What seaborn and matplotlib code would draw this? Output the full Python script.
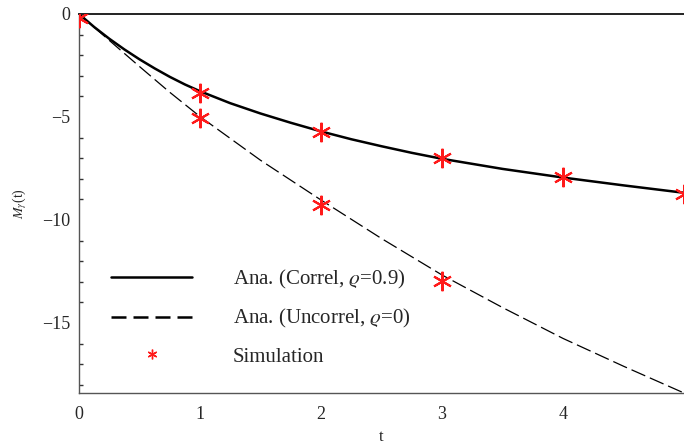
import numpy as np
import pandas as pd
import matplotlib
matplotlib.use("Agg")
import matplotlib.pyplot as plt
from matplotlib.lines import Line2D
import seaborn as sns

# ---- data ----
t_corr = [0, 0.125, 0.25, 0.375, 0.5, 0.625, 0.75, 0.875, 1.0, 1.25, 1.5, 1.75, 2.0,
          2.25, 2.5, 2.75, 3.0, 3.5, 4.0, 4.5, 5.0]
m_corr = [0, -0.63, -1.2, -1.72, -2.2, -2.64, -3.05, -3.42, -3.75, -4.33, -4.83, -5.28, -5.70,
          -6.08, -6.42, -6.74, -7.03, -7.52, -7.94, -8.32, -8.68]

t_unc = [0, 0.25, 0.5, 0.75, 1.0, 1.5, 2.0, 2.5, 3.0, 3.5, 4.0, 4.5, 5.0]
m_unc = [0, -1.28, -2.55, -3.8, -4.98, -7.1, -9.03, -10.9, -12.67, -14.25, -15.75, -17.1, -18.4]

t_sim = [0, 1, 1, 2, 2, 3, 3, 4, 5]
m_sim = [-0.2, -3.83, -5.05, -5.73, -9.27, -6.99, -12.96, -7.91, -8.74]

x_ticks = [0, 1, 2, 3, 4]
y_ticks = [0, -5, -10, -15]
labels = ["Ana. (Correl, $\\varrho$=0.9)", "Ana. (Uncorrel, $\\varrho$=0)", "Simulation"]

sns.set_theme(style="white")
plt.rcParams["font.family"] = ["Liberation Serif", "DejaVu Serif"]
plt.rcParams["mathtext.fontset"] = "stix"

fig = plt.figure(figsize=(6.84, 4.48), dpi=100)
ax = fig.add_axes([79 / 684, 55 / 448, 605 / 684, 379 / 448])

df_c = pd.DataFrame({"t": t_corr, "m": m_corr})
df_u = pd.DataFrame({"t": t_unc, "m": m_unc})
sns.lineplot(data=df_c, x="t", y="m", ax=ax, color="black", lw=1.8, legend=False)
sns.lineplot(data=df_u, x="t", y="m", ax=ax, color="black", lw=0.9, legend=False)
ax.lines[-1].set_dashes([12, 4])

star = (6, 2, 0)
ax.plot(t_sim, m_sim, linestyle="none", marker=star, markersize=14,
        markeredgewidth=1.5, color="#ff1a1a", zorder=5)

ax.set_xlim(0, 5)
ax.set_ylim(-18.4, 0)
ax.set_xticks(x_ticks)
ax.set_yticks(y_ticks)
ax.set_xticklabels([str(v) for v in x_ticks])
ax.set_yticklabels(["0" if v == 0 else "\u2212" + str(-v) for v in y_ticks])
ax.set_yticks(np.arange(-18, 1, 1), minor=True)

for side in ["left", "bottom"]:
    ax.spines[side].set_color("#555555")
    ax.spines[side].set_linewidth(1.0)
ax.spines["right"].set_visible(False)
ax.spines["top"].set_color("#222222")
ax.spines["top"].set_linewidth(1.4)

ax.tick_params(axis="both", which="major", direction="in", length=5, width=1,
               color="#333333", labelsize=13, pad=6)
ax.tick_params(axis="x", which="major", pad=9)
ax.tick_params(axis="y", which="minor", direction="in", length=3, width=1, color="#333333", left=True)
ax.tick_params(axis="x", which="minor", bottom=False)
ax.tick_params(top=False, right=False)

ax.set_xlabel("t", fontsize=12, labelpad=5)
ax.set_ylabel("$M_\\gamma$(t)", fontsize=10, labelpad=10)

handles = [
    Line2D([], [], color="black", lw=1.8),
    Line2D([], [], color="black", lw=1.8, dashes=[6, 2.8]),
    Line2D([], [], linestyle="none", marker=star, markersize=7, markeredgewidth=1.0, color="#ff1a1a"),
]
ax.legend(handles, labels, loc="lower left", bbox_to_anchor=(0.022, 0.02), frameon=False,
          fontsize=15, handlelength=3.9, handletextpad=1.95, labelspacing=0.8)

fig.savefig("out.png", dpi=100)
